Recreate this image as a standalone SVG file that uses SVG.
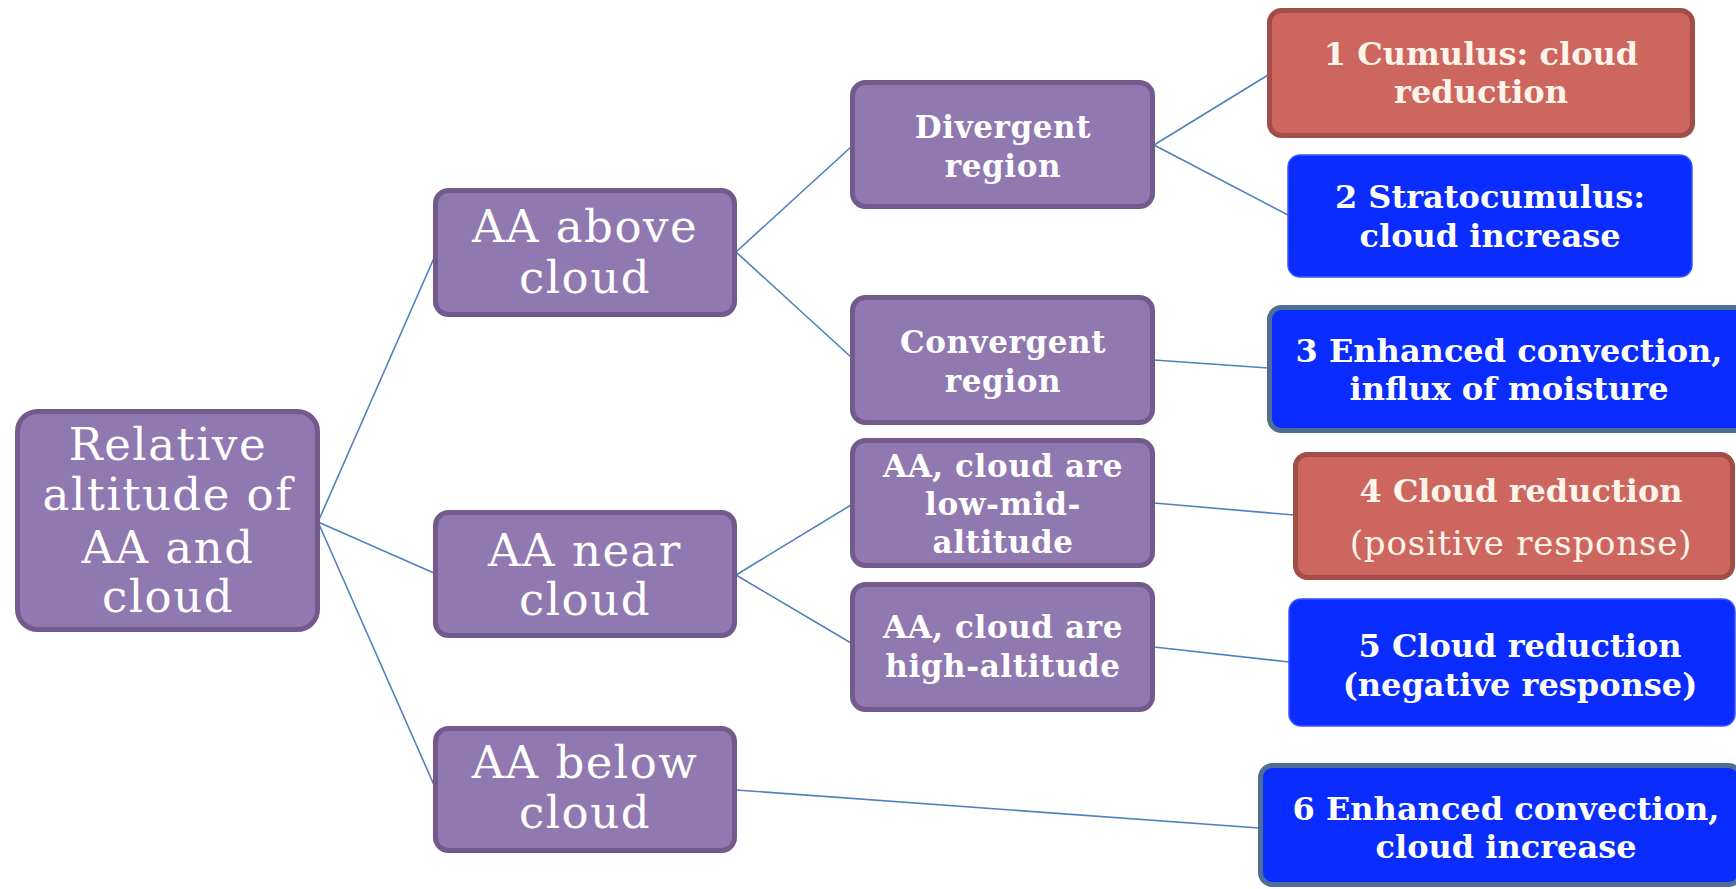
<svg xmlns="http://www.w3.org/2000/svg" width="1736" height="889" viewBox="0 0 1736 889">
  <style>
    .purple { fill: #9079B0; stroke: #735A8C; stroke-width: 5; }
    .red { fill: #CC665F; stroke: #A24D48; stroke-width: 5; }
    .blue { fill: #0A2CFF; stroke: #3A55FF; stroke-width: 1.5; }
    .blue-edged { fill: #0A2CFF; stroke: #4E6E95; stroke-width: 5; }
    .big { font-family: "DejaVu Serif", "Liberation Serif", serif; font-size: 45px; letter-spacing: 1.5px; fill: #FFFFFF; text-anchor: middle; }
    .mid { font-family: "DejaVu Serif", "Liberation Serif", serif; font-size: 31px; letter-spacing: 0.6px; font-weight: bold; fill: #FFFFFF; text-anchor: middle; }
    .end { font-family: "DejaVu Serif", "Liberation Serif", serif; font-size: 32px; font-weight: bold; fill: #FFFFFF; text-anchor: middle; }
    .end-light { font-family: "DejaVu Serif", "Liberation Serif", serif; font-size: 32px; font-weight: bold; fill: #FFF4EA; text-anchor: middle; }
    .end-thin { font-family: "DejaVu Serif", "Liberation Serif", serif; font-size: 34px; letter-spacing: 0.8px; fill: #FFF4EA; text-anchor: middle; }
    .link { stroke: #4F81BD; stroke-width: 1.6; fill: none; }
  </style>

  <rect width="1736" height="889" fill="#FFFFFF"/>

  <g id="connectors">
    <line class="link" x1="318" y1="522" x2="434" y2="258"/>
    <line class="link" x1="318" y1="522" x2="434" y2="573"/>
    <line class="link" x1="318" y1="522" x2="434" y2="785"/>
    <line class="link" x1="736" y1="252" x2="851" y2="147"/>
    <line class="link" x1="736" y1="252" x2="851" y2="357"/>
    <line class="link" x1="736" y1="575" x2="851" y2="505"/>
    <line class="link" x1="736" y1="575" x2="851" y2="643"/>
    <line class="link" x1="736" y1="790" x2="1259" y2="828"/>
    <line class="link" x1="1154" y1="145" x2="1268" y2="75"/>
    <line class="link" x1="1154" y1="145" x2="1288" y2="215"/>
    <line class="link" x1="1154" y1="360" x2="1268" y2="368"/>
    <line class="link" x1="1154" y1="503" x2="1294" y2="515"/>
    <line class="link" x1="1154" y1="647" x2="1289" y2="662"/>
  </g>

  <g id="root">
    <rect class="purple" x="17.5" y="411.5" width="300" height="218" rx="20"/>
    <text class="big" x="168" y="460">Relative</text>
    <text class="big" x="168" y="510">altitude of</text>
    <text class="big" x="168" y="563">AA and</text>
    <text class="big" x="168" y="612">cloud</text>
  </g>

  <g id="aa-above">
    <rect class="purple" x="435.5" y="190.5" width="299" height="124" rx="13"/>
    <text class="big" x="585" y="242">AA above</text>
    <text class="big" x="585" y="293">cloud</text>
  </g>

  <g id="aa-near">
    <rect class="purple" x="435.5" y="512.5" width="299" height="123" rx="13"/>
    <text class="big" x="585" y="566">AA near</text>
    <text class="big" x="585" y="615">cloud</text>
  </g>

  <g id="aa-below">
    <rect class="purple" x="435.5" y="728.5" width="299" height="122" rx="13"/>
    <text class="big" x="585" y="778">AA below</text>
    <text class="big" x="585" y="828">cloud</text>
  </g>

  <g id="divergent">
    <rect class="purple" x="852.5" y="82.5" width="300" height="124" rx="13"/>
    <text class="mid" x="1003" y="138">Divergent</text>
    <text class="mid" x="1003" y="177">region</text>
  </g>

  <g id="convergent">
    <rect class="purple" x="852.5" y="297.5" width="300" height="125" rx="13"/>
    <text class="mid" x="1003" y="353">Convergent</text>
    <text class="mid" x="1003" y="392">region</text>
  </g>

  <g id="low-mid">
    <rect class="purple" x="852.5" y="440.5" width="300" height="125" rx="13"/>
    <text class="mid" x="1003" y="477">AA, cloud are</text>
    <text class="mid" x="1003" y="515">low-mid-</text>
    <text class="mid" x="1003" y="553">altitude</text>
  </g>

  <g id="high">
    <rect class="purple" x="852.5" y="584.5" width="300" height="125" rx="13"/>
    <text class="mid" x="1003" y="638">AA, cloud are</text>
    <text class="mid" x="1003" y="677">high-altitude</text>
  </g>

  <g id="outcome-1">
    <rect class="red" x="1269.5" y="10.5" width="423" height="125" rx="12"/>
    <text class="end-light" x="1481" y="65">1 Cumulus: cloud</text>
    <text class="end-light" x="1481" y="103">reduction</text>
  </g>

  <g id="outcome-2">
    <rect class="blue" x="1288" y="155" width="404" height="122" rx="12"/>
    <text class="end" x="1490" y="208">2 Stratocumulus:</text>
    <text class="end" x="1490" y="247">cloud increase</text>
  </g>

  <g id="outcome-3">
    <rect class="blue-edged" x="1269.5" y="307.5" width="480" height="123" rx="12"/>
    <text class="end" x="1509" y="362">3 Enhanced convection,</text>
    <text class="end" x="1509" y="400">influx of moisture</text>
  </g>

  <g id="outcome-4">
    <rect class="red" x="1295.5" y="454.5" width="437" height="123" rx="12"/>
    <text class="end-light" x="1521" y="502">4 Cloud reduction</text>
    <text class="end-thin" x="1521" y="555">(positive response)</text>
  </g>

  <g id="outcome-5">
    <rect class="blue" x="1289" y="599" width="446" height="127" rx="12"/>
    <text class="end" x="1520" y="657">5 Cloud reduction</text>
    <text class="end" x="1520" y="696">(negative response)</text>
  </g>

  <g id="outcome-6">
    <rect class="blue-edged" x="1260.5" y="765.5" width="480" height="119" rx="12"/>
    <text class="end" x="1506" y="820">6 Enhanced convection,</text>
    <text class="end" x="1506" y="858">cloud increase</text>
  </g>
</svg>
